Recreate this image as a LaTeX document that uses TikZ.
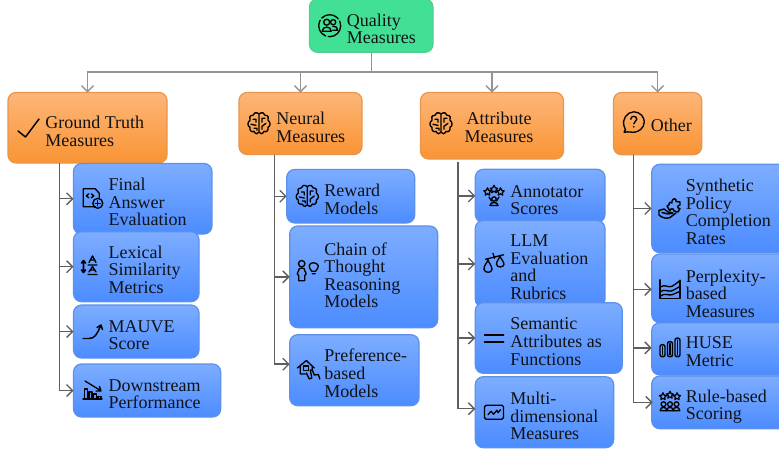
\documentclass[tikz,border=0pt]{standalone}
\usepackage{fontspec}
\setmainfont{Liberation Serif}
\usetikzlibrary{arrows.meta,calc}
\definecolor{ink}{HTML}{101216}
\tikzset{
  x=0.75pt,y=-0.75pt,
  boxbase/.style={rounded corners=6pt,inner sep=0pt,outer sep=0pt,line width=0.9pt},
  rootbox/.style={boxbase,draw=rootline,fill=rootgreen},
  catbox/.style={boxbase,draw=catline,top color=cattop,bottom color=catbot},
  leafbox/.style={boxbase,draw=leafline,top color=leaftop,bottom color=leafbot},
  lbl/.style={anchor=west,inner sep=0pt,align=left,text=ink,font=\fontsize{13.5}{13.2}\selectfont},
  lblc/.style={lbl,align=center,anchor=center},
  bus/.style={draw=busgray,line width=1.1pt},
  busarrow/.style={bus,-{Straight Barb[length=4.5pt,width=9pt,line width=1pt]}},
  trunk/.style={draw=trunkgray,line width=1.1pt},
  brancharrow/.style={trunk,-{Straight Barb[length=4.5pt,width=9pt,line width=1pt]}},
  ic/.style={draw=black,line width=1pt,line cap=round,line join=round,fill=none},
}
\definecolor{rootgreen}{HTML}{42E094}
\definecolor{rootline}{HTML}{52CC96}
\definecolor{catline}{HTML}{E8964F}
\definecolor{cattop}{HTML}{FDB678}
\definecolor{catbot}{HTML}{F99434}
\definecolor{leafline}{HTML}{5C90EA}
\definecolor{leaftop}{HTML}{7DADFF}
\definecolor{leafbot}{HTML}{4C8CFF}
\definecolor{busgray}{HTML}{949494}
\definecolor{trunkgray}{HTML}{5E5E5E}
\newcommand{\bx}[6]{\node[#2,minimum width={(#5-#3)*0.75pt},minimum height={(#6-#4)*0.75pt}] (#1) at ({(#3+#5)/2},{(#4+#6)/2}) {};}
\newcommand{\brainicon}[2]{\begin{scope}[shift={(#1,#2)}]
 \draw[ic] (0,-9.5) .. controls (-3,-11.5) and (-6,-10.5) .. (-6,-8) .. controls (-9,-8.5) and (-10.5,-5) .. (-9,-3) .. controls (-12,-1) and (-11.5,3) .. (-9,4) .. controls (-10,7) and (-7,9.5) .. (-5,8) .. controls (-4,11) and (-1,11) .. (0,9) .. controls (1,11) and (4,11) .. (5,8) .. controls (7,9.5) and (10,7) .. (9,4) .. controls (11.5,3) and (12,-1) .. (9,-3) .. controls (10.5,-5) and (9,-8.5) .. (6,-8) .. controls (6,-10.5) and (3,-11.5) .. (0,-9.5) -- (0,9);
 \draw[ic] (-6,-4) -- (-3,-4) -- (-3,-1) (-8,1) -- (-3,2) (-5,5) -- (-2,5) -- (-2,7) (6,-5) -- (3,-5) -- (3,-1) (7,0) -- (3,3) -- (3,6);
 \end{scope}}
\newcommand{\staricon}[3]{\draw[ic,line width=0.9pt] (#1,#2-#3) -- (#1+0.35*#3,#2-0.3*#3) -- (#1+#3,#2-0.2*#3) -- (#1+0.5*#3,#2+0.3*#3) -- (#1+0.6*#3,#2+#3) -- (#1,#2+0.6*#3) -- (#1-0.6*#3,#2+#3) -- (#1-0.5*#3,#2+0.3*#3) -- (#1-#3,#2-0.2*#3) -- (#1-0.35*#3,#2-0.3*#3) -- cycle;}
\begin{document}
\begin{tikzpicture}
\useasboundingbox (0,0) rectangle (779,451);
\bx{root}{rootbox}{309.5}{-1}{433}{52.3}
\bx{ground}{catbox}{8}{92.5}{167}{163}
\bx{neural}{catbox}{239}{92.5}{362}{154.5}
\bx{attr}{catbox}{420.5}{92.5}{563.5}{159}
\bx{other}{catbox}{613.5}{92.5}{701.7}{154.7}
\bx{final}{leafbox}{73.5}{163.5}{212}{234}
\bx{lexical}{leafbox}{73.5}{231.7}{199}{301.7}
\bx{mauve}{leafbox}{73.5}{305}{199}{358}
\bx{down}{leafbox}{73.5}{364}{220.7}{417}
\bx{reward}{leafbox}{286.7}{169.5}{414.7}{223}
\bx{chain}{leafbox}{289.7}{226}{437.7}{327.7}
\bx{pref}{leafbox}{289.7}{334.7}{419}{405.7}
\bx{annot}{leafbox}{475.3}{169.3}{605}{222.5}
\bx{llm}{leafbox}{475.3}{220.5}{605}{307.3}
\bx{sem}{leafbox}{475.3}{302.7}{622.3}{373.3}
\bx{multi}{leafbox}{475.3}{376.7}{613.7}{447.7}
\bx{synth}{leafbox}{651.7}{164.3}{790}{252.7}
\bx{perp}{leafbox}{651.7}{254}{790}{322.7}
\bx{huse}{leafbox}{651.7}{322.7}{790}{375}
\bx{rule}{leafbox}{651.7}{376}{790}{428.7}
\node[lbl] (rootT) at (346.7,29) {Quality\\Measures};
\node[lbl] (groundT) at (45,131.3) {Ground Truth\\Measures};
\node[lbl] (neuralT) at (276,127.3) {Neural\\Measures};
\node[lblc] (attrT) at (499,127.3) {Attribute\\Measures};
\node[lbl] (otherT) at (650.7,125.5) {Other};
\node[lbl] (finalT) at (108.3,202) {Final\\Answer\\Evaluation};
\node[lbl] (lexicalT) at (108.3,269.7) {Lexical\\Similarity\\Metrics};
\node[lbl] (mauveT) at (108.3,335.3) {MAUVE\\Score};
\node[lbl] (downT) at (108.3,394.3) {Downstream\\Performance};
\node[lbl] (rewardT) at (324,199.5) {Reward\\Models};
\node[lbl] (chainT) at (324,275.3) {Chain of\\Thought\\Reasoning\\Models};
\node[lbl] (prefT) at (324,373.3) {Preference-\\based\\Models};
\node[lbl] (annotT) at (510,200) {Annotator\\Scores};
\node[lbl] (llmT) at (510,267.3) {LLM\\Evaluation\\and\\Rubrics};
\node[lbl] (semT) at (510,341.7) {Semantic\\Attributes as\\Functions};
\node[lbl] (multiT) at (510,416) {Multi-\\dimensional\\Measures};
\node[lbl] (synthT) at (685.7,212) {Synthetic\\Policy\\Completion\\Rates};
\node[lbl] (perpT) at (685.7,293.5) {Perplexity-\\based\\Measures};
\node[lbl] (huseT) at (685.7,351.8) {HUSE\\Metric};
\node[lbl] (ruleT) at (685.7,406.8) {Rule-based\\Scoring};
\path (root.south) ++(0,19.7) coordinate (hub);
\draw[bus] (root.south) -- (hub);
\draw[busarrow] (hub) -| (ground.north);
\draw[busarrow] (hub) -| (neural.north);
\draw[busarrow] (hub) -| (attr.north);
\draw[busarrow] (hub) -| (other.north);
\path (ground.south) ++(-28,0) coordinate (gt);
\path (neural.south) ++(-26,0) coordinate (nt);
\path (attr.south) ++(-34,3) coordinate (at);
\path (other.south) ++(-24,0) coordinate (ot);
\foreach \c in {final,lexical,mauve,down} \draw[brancharrow] (gt) |- (\c.west);
\foreach \c in {reward,chain} \draw[brancharrow] (nt) |- (\c.west);
\draw[brancharrow] (nt) |- ($(pref.west)+(0,-6)$);
\foreach \c in {annot,llm,sem} \draw[brancharrow] (at) |- (\c.west);
\draw[brancharrow] (at) |- ($(multi.west)+(0,-3.5)$);
\draw[brancharrow] (ot) |- (synth.west);
\draw[brancharrow] (ot) |- ($(perp.west)+(0,1)$);
\draw[brancharrow] (ot) |- ($(huse.west)+(0,-1)$);
\draw[brancharrow] (ot) |- ($(rule.west)+(1,0)$);
% icons
\begin{scope}[shift={(329.7,25.7)}]
 \draw[ic,dash pattern=on 14pt off 2pt] (0,0) circle (11);
 \draw[ic] (-3,-3.5) circle (3) (3.5,-3.5) circle (2.6);
 \draw[ic] (-7.5,5.5) .. controls (-7.5,0) and (1.5,0) .. (1.5,5.5) -- cycle;
 \draw[ic] (3,0.5) .. controls (6,0) and (8,2) .. (8,4.5) -- (3,4.5);
\end{scope}
\draw[ic,line width=1.1pt] (18,131) -- (25.5,137) -- (39,119);
\brainicon{259}{123.3}
\brainicon{441}{123.3}
\begin{scope}[shift={(633.3,122.3)}]
 \draw[ic] (-9,9) .. controls (-7,8) and (-8,7) .. (-9,4.5) .. controls (-12,-3) and (-6,-10.5) .. (0.5,-10.5) .. controls (7,-10.5) and (11,-5) .. (11,-0.5) .. controls (11,6) and (5,10) .. (0,10) .. controls (-3,10) and (-5,9) .. (-9,10) -- cycle;
 \draw[ic] (-2.5,-3) .. controls (-2.5,-7) and (3.5,-7) .. (3.5,-3) .. controls (3.5,-1) and (0.5,-1) .. (0.5,1.5);
 \fill (0.5,4.5) circle (0.9);
\end{scope}
\begin{scope}[shift={(92.3,198.3)}]
 \draw[ic] (3,8.5) -- (-9,8.5) -- (-9,-9.5) -- (3,-9.5) -- (7,-5) -- (7,-1);
 \draw[ic] (5.5,5) circle (5);
 \draw[ic] (3,5) -- (8,5) (5.5,2.5) -- (5.5,7.5);
 \draw[ic] (-3.5,-4.5) -- (-6,-2.5) -- (-3.5,-0.5) (-1,-4.5) -- (1.5,-2.5) -- (-1,-0.5);
\end{scope}
\begin{scope}[shift={(92,266)}]
 \draw[ic,line width=1.2pt] (-8.5,-5) -- (-8.5,6) (-10.5,-3) -- (-8.5,-5.5) -- (-6.5,-3) (-10.5,4) -- (-8.5,6.5) -- (-6.5,4);
 \draw[ic] (-3,-3.5) -- (0.5,-10) -- (4,-3.5) (-1.5,-6) -- (2.5,-6) (-4,-1) -- (5,-1);
 \draw[ic] (-3,6) -- (0.5,0.5) -- (4,6) (-1.5,4) -- (2.5,4) (-4,8.5) -- (5,8.5);
\end{scope}
\draw[ic,line width=1.1pt] (83,338.5) -- (89,338.5) .. controls (95,338.5) and (97,334) .. (100.5,326);
\draw[ic,line width=1.1pt] (97,327.5) -- (101,325) -- (102.5,329.5);
\begin{scope}[shift={(92.5,390)}]
 \draw[ic] (-9.5,9) -- (9.5,9);
 \draw[ic] (-8,9) -- (-8,-1) -- (-5,-1) -- (-5,9) (-3.5,9) -- (-3.5,2) -- (-0.5,2) -- (-0.5,9) (1,9) -- (1,4) -- (4,4) -- (4,9) (5.5,9) -- (5.5,6.5) -- (8.5,6.5) -- (8.5,9);
 \draw[ic] (-7.5,-9) -- (8,0.5) (3.5,1) -- (8.5,1) -- (7,-3.5);
\end{scope}
\brainicon{307.3}{196}
\begin{scope}[shift={(308.7,271.7)}]
 \draw[ic] (-7,-8) circle (3.2);
 \draw[ic] (-10,-1) .. controls (-12,-4.5) and (-2,-4.5) .. (-4,-1) .. controls (-2,2) and (-2.5,3) .. (-4,4) -- (-4,9) -- (-10,9) -- (-10,4) .. controls (-11.5,3) and (-12,2) .. (-10,-1);
 \draw[ic] (8,-8) .. controls (3,-11) and (-1,-7) .. (1,-3.5) -- (3,-0.5) -- (7,-0.5) -- (9,-3.5) .. controls (10,-5) and (10,-7) .. (8,-8) (3.5,2) -- (6.5,2);
\end{scope}
\begin{scope}[shift={(308.3,370)}]
 \draw[ic] (-11,-2) -- (-2,-9.5) -- (6,-2) (-8,-4) -- (-8,4) -- (-3,4) (4,-4) -- (4,0);
 \draw[ic] (-4.5,-4) rectangle (0,0.5);
 \draw[ic] (-2,3) -- (1,9) -- (3.5,8) -- (2,0) -- (4,0) -- (6,5) -- (10,4.5) -- (11.5,9);
\end{scope}
\begin{scope}[shift={(494,196)}]
 \staricon{-6.5}{-4.5}{3.7}
 \staricon{0}{-7}{3.7}
 \staricon{6.5}{-4.5}{3.7}
 \draw[ic] (0,3) circle (2.2);
 \draw[ic] (-4,9.5) .. controls (-4,5.5) and (4,5.5) .. (4,9.5) -- cycle;
 \draw[ic] (-5,1) -- (-2.5,5) (5,1) -- (2.5,5);
\end{scope}
\begin{scope}[shift={(494,263.3)}]
 \draw[ic] (-8.5,-4) -- (9.5,-8.5) (-1,-10) -- (0.5,-5);
 \draw[ic] (-6,-4) .. controls (-6,-1) and (-10.5,2) .. (-10,6) .. controls (-9.5,10) and (-2,10) .. (-2,6) .. controls (-2,2) and (-6,-1) .. (-6,-4);
 \draw[ic] (6,-8) .. controls (6,-5) and (2,-2) .. (2.5,1) .. controls (3,5) and (10,4) .. (10,1) .. controls (10,-2) and (6,-5) .. (6,-8);
\end{scope}
\draw[ic] (484.5,335) -- (503.7,335) (484.5,342) -- (503.7,342);
\begin{scope}[shift={(494,412.2)}]
 \draw[ic,rounded corners=1.2pt] (-9.5,-7) rectangle (9.5,7);
 \draw[ic] (-6,2.5) -- (-3,-1) -- (-0.5,2) -- (3,-2) -- (4,0.5) -- (6.5,-2.5);
\end{scope}
\begin{scope}[shift={(670,209)}]
 \draw[ic,line width=1.1pt] (-3,-3) -- (-1,-4) .. controls (-1.5,-7) and (1.5,-7.5) .. (2,-6) -- (2,-8) .. controls (2.5,-11) and (7,-11) .. (6,-7.5) -- (10,-7) -- (10,-4) .. controls (7,-4) and (7,0) .. (10,-0.5) -- (8,3) -- (4,2) .. controls (4,-1) and (0,-1) .. (0,2) -- (-3,-3);
 \draw[ic,line width=1.1pt] (-11,1.5) -- (-6,0) -- (-1,3.5) -- (3,4) -- (-2,5) -- (-8,3.5);
 \draw[ic,line width=1.1pt] (-11,1.5) -- (-11,6) .. controls (-8,9) and (-3,10) .. (0,8.5) -- (6,4);
\end{scope}
\begin{scope}[shift={(670,289.3)}]
 \draw[ic] (-10,-9.5) -- (-10,9) -- (10,9) -- (10,-9);
 \draw[ic] (-10,-2) .. controls (-5,-6) and (-2,-1) .. (2,-3) .. controls (5,-5) and (7,-6) .. (10,-9);
 \draw[ic] (-10,2.5) .. controls (-5,-1) and (-2,3) .. (2,1.5) .. controls (5,0) and (7,-1) .. (10,-3);
 \draw[ic] (-10,7) .. controls (-5,3) and (-2,6.5) .. (2,5.5) .. controls (5,4.5) and (7,3) .. (10,2);
\end{scope}
\begin{scope}[shift={(670,347.7)}]
 \foreach \xx/\tp in {-7.5/-3,0/-6,7.5/-9.5}{
  \draw[ic,rounded corners=1.5pt,line width=1.1pt] (\xx-2.5,\tp) rectangle (\xx+2.5,9);
  \draw[ic] (\xx,\tp+2) -- (\xx,7);
 }
\end{scope}
\begin{scope}[shift={(670,401.7)}]
 \staricon{-7}{-5.5}{3.5}
 \staricon{0}{-7}{3.5}
 \staricon{7}{-5.5}{3.5}
 \foreach \xx in {-6.5,0,6.5}{
  \draw[ic,line width=1pt] (\xx,2.5) circle (2.4);
  \draw[ic,line width=1pt] (\xx-3.3,9) .. controls (\xx-3.3,4.5) and (\xx+3.3,4.5) .. (\xx+3.3,9) -- cycle;
 }
\end{scope}
\end{tikzpicture}
\end{document}
